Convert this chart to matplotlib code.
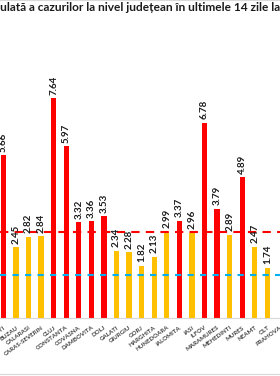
import matplotlib
matplotlib.use("Agg")
import matplotlib.pyplot as plt
import numpy as np
from matplotlib.lines import Line2D

# judete vizibile in decupaj (BUCURESTI .. PRAHOVA)
counties = ["BUCURESTI", "BUZAU", "CALARASI", "CARAS-SEVERIN", "CLUJ", "CONSTANTA",
            "COVASNA", "DAMBOVITA", "DOLJ", "GALATI", "GIURGIU", "GORJ", "HARGHITA",
            "HUNEDOARA", "IALOMITA", "IASI", "ILFOV", "MARAMURES", "MEHEDINTI",
            "MURES", "NEAMT", "OLT", "PRAHOVA"]
rates = [5.66, 2.45, 2.82, 2.84, 7.64, 5.97, 3.32, 3.36, 3.53, 2.34, 2.28, 1.82,
         2.13, 2.99, 3.37, 2.96, 6.78, 3.79, 2.89, 4.89, 2.47, 1.74, np.nan]
red_threshold = 3.0
blue_threshold = 1.5

title = "Rata cumulată a cazurilor la nivel județean în ultimele 14 zile la 1000 locuitori"
hidden_prefix = "Rata cum"

RED = "#ff0000"
YELLOW = "#ffc000"
BLUE = "#00b0f0"

plt.rcParams["font.family"] = ["Lato", "DejaVu Sans"]

fig = plt.figure(figsize=(2.8, 3.76), dpi=100)
fig.patch.set_facecolor("white")

ax = fig.add_axes([0, 58 / 376, 1, 288 / 376])
x = np.arange(len(counties))
colors = [RED if (not np.isnan(v) and v >= red_threshold) else YELLOW for v in rates]
ax.bar(x, rates, width=0.42, color=colors, zorder=2)

for xi, v in zip(x, rates):
    if np.isnan(v):
        continue
    ax.text(xi, v + 0.12, f"{v:.2f}", rotation=90, ha="center", va="bottom",
            fontsize=7, fontweight="bold", color="#1a1a1a", zorder=4)

ax.axhline(red_threshold, color=RED, lw=1.5, dashes=(4, 3), zorder=3)
ax.axhline(blue_threshold, color=BLUE, lw=1.5, dashes=(3, 3), zorder=3)

ax.set_xlim(-0.27, 21.27)
ax.set_ylim(0, 10)
ax.set_xticks(x)
ax.set_xticklabels(counties, rotation=36, ha="right", rotation_mode="anchor",
                   fontsize=4.4, fontweight="bold", color="#404040")
ax.tick_params(axis="x", length=0, pad=5)
ax.set_yticks([])
for side in ["top", "left", "right"]:
    ax.spines[side].set_visible(False)
ax.spines["bottom"].set_color("#d9d9d9")
ax.spines["bottom"].set_linewidth(0.8)

# titlul graficului, taiat la marginile decupajului
title_size = 8.6
renderer = fig.canvas.get_renderer()
tmp = fig.text(0, 0, hidden_prefix, fontsize=title_size, fontweight="bold")
shift = tmp.get_window_extent(renderer).width / (2.8 * 100)
tmp.remove()
fig.text(-shift, 1 - 11 / 376, title, fontsize=title_size, fontweight="bold",
         color="#1a1a1a", ha="left", va="baseline")

# chenarul gri al graficului
fig.add_artist(Line2D([0, 1], [0.999, 0.999], color="#d9d9d9", lw=0.8))
fig.add_artist(Line2D([0, 1], [1 - 374 / 376, 1 - 374 / 376], color="#d9d9d9", lw=0.8))

fig.savefig("out.png", dpi=100, facecolor="white")
